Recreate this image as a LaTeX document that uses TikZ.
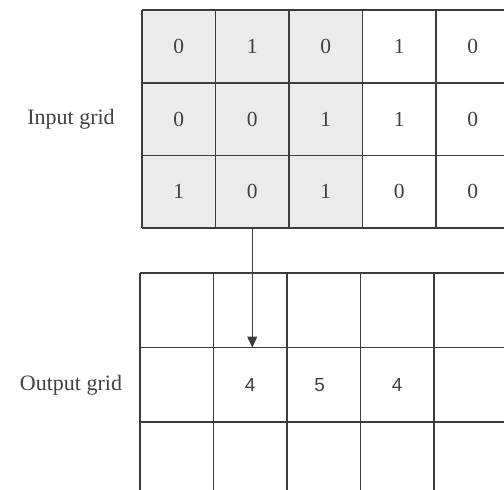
\documentclass[tikz,border=0pt]{standalone}
\usepackage{fontspec}
\setmainfont{Liberation Serif}
\newfontfamily\numsans{Liberation Sans}
\usetikzlibrary{arrows.meta}
\definecolor{gridline}{HTML}{3C3C3C}
\definecolor{cellgray}{HTML}{EBEBE9}
\definecolor{txt}{HTML}{404040}
\tikzset{
  x=1pt, y=-1pt,
  incell/.style={minimum width=73.5pt, minimum height=72.7pt, inner sep=0pt, outer sep=0pt, anchor=center, text=txt, font=\fontsize{21.5}{21.5}\selectfont},
  outcell/.style={minimum width=73.5pt, minimum height=74.5pt, inner sep=0pt, outer sep=0pt, anchor=center, text=txt, font=\numsans\fontsize{19}{19}\selectfont},
  gridlines/.style={draw=gridline, line width=1.6pt},
  label/.style={text=txt, font=\fontsize{22}{22}\selectfont, inner sep=0pt},
  conn/.style={draw=gridline, line width=1.4pt, -{Triangle[length=11pt,width=10pt]}}
}
\begin{document}
\begin{tikzpicture}
\useasboundingbox (0,0) rectangle (504,490);
% shaded area
\fill[fill=cellgray] (142,10) rectangle (362.5,228.1);
% input grid lines
\foreach \i in {0,...,5}{ \draw[gridlines] (142+73.5*\i,10) -- (142+73.5*\i,228.1); }
\foreach \j in {0,...,3}{ \draw[gridlines] (142,10+72.7*\j) -- (510,10+72.7*\j); }
% output grid lines
\foreach \i in {0,...,5}{ \draw[gridlines] (140+73.5*\i,273) -- (140+73.5*\i,496); }
\foreach \j in {0,...,2}{ \draw[gridlines] (140,273+74.5*\j) -- (510,273+74.5*\j); }
% input cells
\foreach \r/\vals in {0/{0,1,0,1,0},1/{0,0,1,1,0},2/{1,0,1,0,0}}{
  \foreach \v [count=\c from 0] in \vals {
    \pgfmathsetmacro{\cx}{142+73.5*(\c+0.5)}
    \pgfmathsetmacro{\cy}{10+72.7*(\r+0.5)}
    \node[incell] (in-\r-\c) at (\cx,\cy) {\v};
  }
}
% output cells
\foreach \r in {0,1,2}{
  \foreach \c in {0,...,4}{
    \pgfmathsetmacro{\cx}{140+73.5*(\c+0.5)}
    \pgfmathsetmacro{\cy}{273+74.5*(\r+0.5)}
    \node[outcell] (out-\r-\c) at (\cx,\cy) {};
  }
}
\node[outcell] (v1) at (out-1-1) {4};
\node[outcell] (v2) at ([xshift=-4pt]out-1-2) {5};
\node[outcell] (v3) at (out-1-3) {4};
% labels
\node[label] (inlabel) at (71,119) {Input grid};
\node[label] (outlabel) at (71,385) {Output grid};
% arrow
\draw[conn] (in-2-1.south) -- (in-2-1.south |- out-1-1.north);
\end{tikzpicture}
\end{document}
